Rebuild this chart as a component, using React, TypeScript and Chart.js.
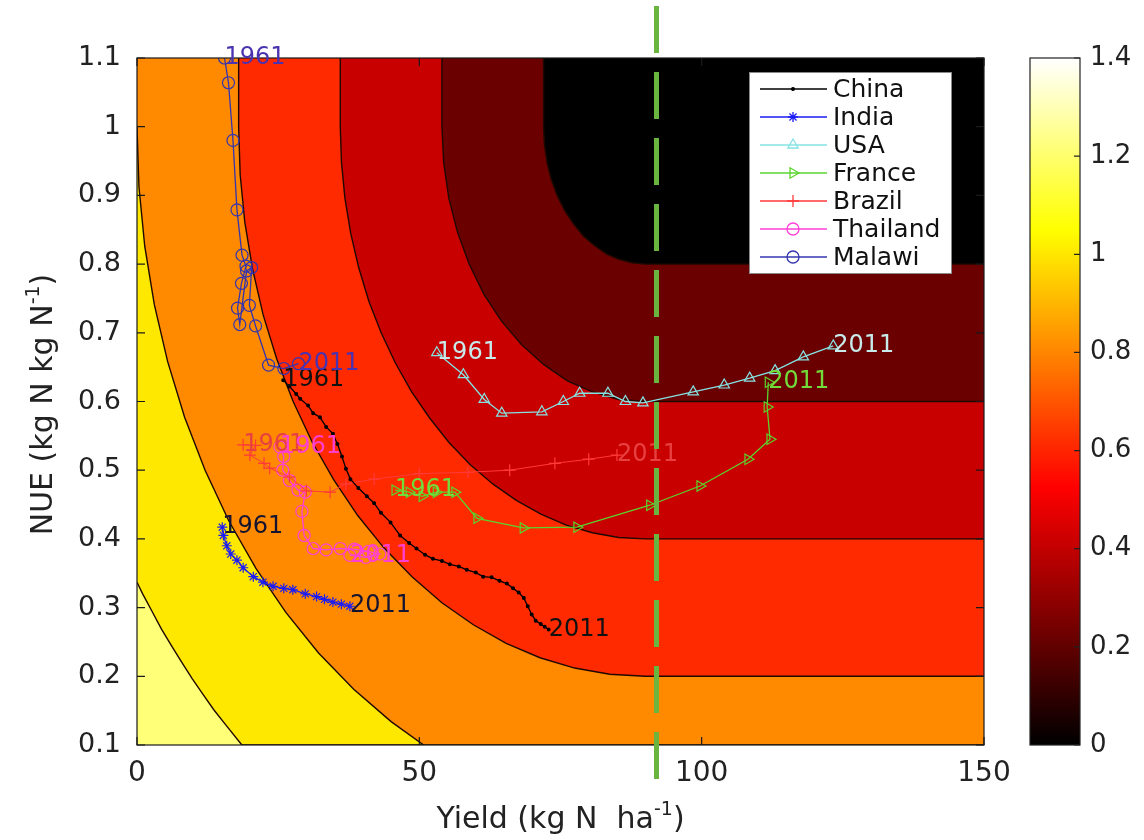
import React, { useEffect, useRef } from 'react';
import { Chart, registerables } from 'chart.js';
import { drawPoint } from 'chart.js/helpers';

Chart.register(...registerables);

const FONT = '"DejaVu Sans", "Liberation Sans", Arial, sans-serif';

// ---------- axes / ticks ----------
const xTicks = [0, 50, 100, 150];
const yTicks = [0.1, 0.2, 0.3, 0.4, 0.5, 0.6, 0.7, 0.8, 0.9, 1.0, 1.1];
const colorbarTicks = [0, 0.2, 0.4, 0.6, 0.8, 1.0, 1.2, 1.4];
const colorbarLabels = ['0', '0.2', '0.4', '0.6', '0.8', '1', '1.2', '1.4'];
const colorbarMax = 1.4;
const targetYield = 92;

const xTitle = 'Yield (kg N  ha';
const yTitle = 'NUE (kg N kg N';
const superscript = '-1';

// ---------- country trajectories (x = yield, y = NUE) ----------
const countries = ['China', 'India', 'USA', 'France', 'Brazil', 'Thailand', 'Malawi'];
const startYear = '1961';
const endYear = '2011';

const chinaPts = [
  [25.9, 0.631], [27.0, 0.622], [28.2, 0.611], [28.9, 0.604], [30.3, 0.594], [31.2, 0.583],
  [32.4, 0.577], [33.5, 0.563], [34.7, 0.553], [35.5, 0.538], [36.3, 0.52], [37.0, 0.502],
  [37.8, 0.487], [39.2, 0.474], [40.7, 0.462], [42.0, 0.452], [43.2, 0.438], [44.9, 0.424],
  [46.6, 0.405], [48.2, 0.394], [49.5, 0.386], [51.0, 0.377], [52.4, 0.371], [54.0, 0.368],
  [55.4, 0.363], [57.0, 0.36], [58.4, 0.355], [60.0, 0.351], [61.3, 0.345], [62.8, 0.344],
  [64.2, 0.339], [65.5, 0.335], [66.6, 0.328], [67.6, 0.322], [68.5, 0.314], [69.2, 0.302],
  [69.9, 0.29], [70.6, 0.281], [71.5, 0.276], [72.2, 0.272], [72.9, 0.268],
];
const indiaPts = [
  [15.1, 0.417], [15.3, 0.405], [15.9, 0.39], [16.6, 0.378], [17.7, 0.369], [18.8, 0.358],
  [20.6, 0.345], [22.3, 0.337], [24.1, 0.331], [26.0, 0.328], [27.6, 0.326], [29.8, 0.32],
  [31.8, 0.316], [33.2, 0.312], [34.7, 0.308], [36.2, 0.305], [37.7, 0.302],
];
const usaPts = [
  [53.1, 0.671], [57.8, 0.639], [61.5, 0.603], [64.6, 0.583], [71.7, 0.585], [75.5, 0.6],
  [78.4, 0.612], [83.4, 0.612], [86.5, 0.6], [89.6, 0.598], [98.5, 0.614], [104, 0.624],
  [108.5, 0.634], [113, 0.645], [118, 0.665], [123.3, 0.681],
];
const francePts = [
  [45.7, 0.471], [48.2, 0.468], [50.5, 0.462], [53.0, 0.468], [56.3, 0.468], [60.2, 0.43],
  [68.4, 0.416], [77.9, 0.417], [90.8, 0.449], [99.7, 0.477], [108.2, 0.516], [112.1, 0.545],
  [111.6, 0.592], [111.8, 0.628],
];
const brazilPts = [
  [18.8, 0.537], [21.0, 0.536], [20.0, 0.522], [22.5, 0.51], [23.5, 0.503], [27.0, 0.49],
  [30.0, 0.47], [34.2, 0.468], [37.0, 0.48], [42.0, 0.487], [50.0, 0.495], [58.6, 0.497],
  [66.0, 0.5], [74.0, 0.51], [80.0, 0.516], [85.0, 0.522],
];
const thailandPts = [
  [25.3, 0.534], [26.0, 0.52], [25.8, 0.5], [27.0, 0.485], [28.5, 0.471], [29.8, 0.468],
  [29.2, 0.44], [29.6, 0.405], [31.2, 0.386], [33.5, 0.384], [36.0, 0.386], [38.5, 0.385],
  [41.0, 0.382], [43.0, 0.378], [40.5, 0.373], [37.7, 0.376],
];
const malawiPts = [
  [15.5, 1.1], [16.2, 1.064], [17.0, 0.98], [17.7, 0.879], [18.6, 0.813], [19.3, 0.797],
  [18.5, 0.772], [17.8, 0.736], [18.2, 0.712], [19.4, 0.79], [20.3, 0.795], [19.9, 0.74],
  [21.0, 0.71], [23.3, 0.653], [26.0, 0.648], [28.6, 0.655],
];

const seriesPts = [chinaPts, indiaPts, usaPts, francePts, brazilPts, thailandPts, malawiPts];
const seriesColors = ['#000000', '#1b1bf5', '#86e3e3', '#5ad42c', '#ff3a3a', '#ff3fd8', '#3434b0'];
const labelColors = ['#111111', '#141430', '#c8eaea', '#72dc3a', '#e84040', '#ff3fd0', '#4a32b0'];
const markerStyles = ['circle', 'star', 'triangle', 'triangle', 'cross', 'circle', 'circle'];
const markerRotation = [0, 0, 0, 90, 0, 0, 0];
const markerRadius = [1.4, 5, 6, 6, 6, 6, 6];

// ---------- contour bands (boundary of the region below each level) ----------
const contourLevels = [0.2, 0.4, 0.6, 0.8, 1.0, 1.2];
const contour02 = [
  [72, 1.1], [72, 1.0], [72.15, 0.974], [72.61, 0.948], [73.37, 0.923], [74.41, 0.9], [75.72, 0.878],
  [77.27, 0.859], [79.04, 0.841], [81, 0.827], [83.11, 0.815], [85.34, 0.807], [87.65, 0.802],
  [90, 0.8], [150, 0.8],
];
const contour04 = [
  [54, 1.1], [54, 1.0], [54.31, 0.948], [55.22, 0.896], [56.74, 0.847], [58.82, 0.8], [61.44, 0.756],
  [64.55, 0.717], [68.08, 0.683], [72, 0.654], [76.22, 0.63], [80.68, 0.614], [85.3, 0.603],
  [90, 0.6], [150, 0.6],
];
const contour06 = [
  [36, 1.1], [36, 1.0], [36.21, 0.948], [36.82, 0.896], [37.84, 0.845], [39.26, 0.795], [41.06, 0.746],
  [43.24, 0.7], [45.76, 0.656], [48.64, 0.614], [51.82, 0.576], [55.29, 0.54], [59.03, 0.508],
  [63, 0.48], [67.18, 0.456], [71.53, 0.436], [76.02, 0.42], [80.63, 0.409], [85.29, 0.402],
  [90, 0.4], [150, 0.4],
];
const contour08 = [
  [18, 1.1], [18, 1.0], [18.27, 0.93], [19.09, 0.861], [20.46, 0.793], [22.34, 0.726], [24.75, 0.662],
  [27.65, 0.6], [31.02, 0.541], [34.85, 0.486], [39.09, 0.434], [43.72, 0.387], [48.7, 0.345],
  [54, 0.307], [59.57, 0.275], [65.38, 0.248], [71.37, 0.227], [77.5, 0.212], [83.72, 0.203],
  [90, 0.2], [150, 0.2],
];
const contour10 = [
  [0, 1.0], [0.34, 0.913], [1.37, 0.826], [3.07, 0.741], [5.43, 0.658], [8.43, 0.577], [12.06, 0.5],
  [16.27, 0.426], [21.06, 0.357], [26.36, 0.293], [32.15, 0.234], [38.38, 0.181], [45, 0.134],
  [50.77, 0.1], [150, 0.1],
];
const contour12 = [
  [0, 0.337], [1.0, 0.32], [2.63, 0.295], [4.31, 0.269], [6.07, 0.245], [7.88, 0.221],
  [9.74, 0.197], [11.66, 0.174], [13.63, 0.151], [15.65, 0.13], [18.57, 0.1], [150, 0.1],
];
const contours = [contour02, contour04, contour06, contour08, contour10, contour12];
const bandColors = ['#000000', '#6a0000', '#c80000', '#ff2a00', '#ff8a00', '#ffe800', '#ffff78'];

const toXY = (pts: number[][]) => pts.map(([x, y]) => ({ x, y }));

// ---------- plugins ----------
const backgroundPlugin = {
  id: 'bg',
  beforeDraw(chart: any) {
    const { ctx, chartArea: a } = chart;
    ctx.save();
    ctx.fillStyle = '#ffffff';
    ctx.fillRect(0, 0, chart.width, chart.height);
    ctx.fillStyle = bandColors[6];
    ctx.fillRect(a.left, a.top, a.right - a.left, a.bottom - a.top);
    ctx.restore();
  },
};

const frameTickPlugin = {
  id: 'frameTicks',
  afterDatasetsDraw(chart: any) {
    const { ctx, chartArea: a, scales } = chart;
    ctx.save();
    ctx.strokeStyle = '#1a1a1a';
    ctx.lineWidth = 1.2;
    ctx.strokeRect(a.left, a.top, a.right - a.left, a.bottom - a.top);
    const tl = 8;
    ctx.beginPath();
    xTicks.forEach((v) => {
      const px = scales.x.getPixelForValue(v);
      ctx.moveTo(px, a.bottom); ctx.lineTo(px, a.bottom - tl);
      ctx.moveTo(px, a.top); ctx.lineTo(px, a.top + tl);
    });
    yTicks.forEach((v) => {
      const py = scales.y.getPixelForValue(v);
      ctx.moveTo(a.left, py); ctx.lineTo(a.left + tl, py);
      ctx.moveTo(a.right, py); ctx.lineTo(a.right - tl, py);
    });
    ctx.stroke();
    ctx.restore();
  },
};

const overlayPlugin = {
  id: 'overlay',
  afterDraw(chart: any) {
    const { ctx, chartArea: a, scales } = chart;
    ctx.save();

    // year labels
    ctx.font = `24px ${FONT}`;
    ctx.textAlign = 'left';
    ctx.textBaseline = 'middle';
    for (let i = 0; i < countries.length; i++) {
      const meta = chart.getDatasetMeta(i);
      const first = meta.data[0];
      const last = meta.data[meta.data.length - 1];
      ctx.fillStyle = labelColors[i];
      ctx.fillText(startYear, first.x, first.y);
      ctx.fillText(endYear, last.x, last.y);
    }

    // legend
    const bx = a.right - 235, by = a.top + 14, bw = 202, bh = 201;
    ctx.fillStyle = '#ffffff';
    ctx.fillRect(bx, by, bw, bh);
    ctx.strokeStyle = '#8a8a8a';
    ctx.lineWidth = 1;
    ctx.strokeRect(bx + 0.5, by + 0.5, bw, bh);
    ctx.font = `25px ${FONT}`;
    for (let i = 0; i < countries.length; i++) {
      const y = by + 17 + i * 28;
      ctx.strokeStyle = seriesColors[i];
      ctx.lineWidth = 1.3;
      ctx.beginPath();
      ctx.moveTo(bx + 11, y);
      ctx.lineTo(bx + 78, y);
      ctx.stroke();
      ctx.fillStyle = i === 0 ? '#000' : 'rgba(0,0,0,0)';
      drawPoint(ctx, {
        pointStyle: markerStyles[i], radius: markerRadius[i], rotation: markerRotation[i], borderWidth: 1.3,
      } as any, bx + 44, y);
      ctx.fillStyle = '#111';
      ctx.fillText(countries[i], bx + 84, y + 1);
    }

    // dashed target line
    const tx = scales.x.getPixelForValue(targetYield);
    ctx.strokeStyle = '#6ab440';
    ctx.lineWidth = 5;
    ctx.setLineDash([47, 19]);
    ctx.beginPath();
    ctx.moveTo(tx, 6);
    ctx.lineTo(tx, 781);
    ctx.stroke();
    ctx.setLineDash([]);

    // colorbar
    const cx0 = 1030, cx1 = 1080;
    const grad = ctx.createLinearGradient(0, a.bottom, 0, a.top);
    grad.addColorStop(0, '#000000');
    grad.addColorStop(0.375, '#ff0000');
    grad.addColorStop(0.75, '#ffff00');
    grad.addColorStop(1, '#ffffff');
    ctx.fillStyle = grad;
    ctx.fillRect(cx0, a.top, cx1 - cx0, a.bottom - a.top);
    ctx.strokeStyle = '#222';
    ctx.lineWidth = 1.2;
    ctx.strokeRect(cx0, a.top, cx1 - cx0, a.bottom - a.top);
    ctx.font = `26px ${FONT}`;
    ctx.fillStyle = '#222';
    ctx.beginPath();
    colorbarTicks.forEach((v, k) => {
      const py = a.bottom - (v / colorbarMax) * (a.bottom - a.top);
      ctx.moveTo(cx1, py); ctx.lineTo(cx1 - 6, py);
      ctx.fillText(colorbarLabels[k], cx1 + 10, py);
    });
    ctx.stroke();

    // axis titles
    const mainF = `30px ${FONT}`;
    const supF = `19px ${FONT}`;
    ctx.fillStyle = '#222';
    ctx.textBaseline = 'alphabetic';
    const drawTitle = (txt: string) => {
      ctx.font = mainF; const w1 = ctx.measureText(txt).width;
      ctx.font = supF; const w2 = ctx.measureText(superscript).width;
      ctx.font = mainF; const w3 = ctx.measureText(')').width;
      const total = w1 + w2 + w3;
      let x = -total / 2;
      ctx.font = mainF; ctx.fillText(txt, x, 0); x += w1;
      ctx.font = supF; ctx.fillText(superscript, x, -13); x += w2;
      ctx.font = mainF; ctx.fillText(')', x, 0);
    };
    ctx.save();
    ctx.translate((a.left + a.right) / 2, 828);
    drawTitle(xTitle);
    ctx.restore();
    ctx.save();
    ctx.translate(52, (a.top + a.bottom) / 2 + 3);
    ctx.rotate(-Math.PI / 2);
    drawTitle(yTitle);
    ctx.restore();

    ctx.restore();
  },
};

export default function App() {
  const ref = useRef<HTMLCanvasElement | null>(null);

  useEffect(() => {
    if (!ref.current) return;
    const seriesDatasets = countries.map((name, i) => ({
      label: name,
      data: toXY(seriesPts[i]),
      showLine: true,
      borderColor: seriesColors[i],
      borderWidth: i === 4 ? 1 : 1.3,
      pointStyle: markerStyles[i],
      pointRotation: markerRotation[i],
      pointRadius: markerRadius[i],
      pointBorderWidth: 1.2,
      pointBorderColor: seriesColors[i],
      pointBackgroundColor: i === 0 ? '#000' : 'rgba(0,0,0,0)',
      fill: false,
    }));
    const contourDatasets = contourLevels.map((lv, k) => ({
      label: `level ${lv}`,
      data: toXY(contours[k]),
      showLine: true,
      borderColor: '#1f0800',
      borderWidth: 1.4,
      pointRadius: 0,
      fill: 'end',
      backgroundColor: bandColors[k],
    }));

    const chart = new Chart(ref.current, {
      type: 'scatter',
      data: { datasets: [...seriesDatasets, ...contourDatasets] as any },
      options: {
        animation: false,
        responsive: false,
        events: [],
        layout: { padding: { left: 0, top: 58, right: 160, bottom: 0 } },
        plugins: {
          legend: { display: false },
          tooltip: { enabled: false },
          filler: { propagate: false },
        },
        scales: {
          x: {
            type: 'linear', min: 0, max: 150,
            afterBuildTicks: (axis: any) => { axis.ticks = xTicks.map((v) => ({ value: v })); },
            afterFit: (axis: any) => { axis.height = 95; },
            grid: { display: false, drawTicks: false },
            border: { display: false },
            ticks: { font: { family: FONT, size: 28 }, color: '#222', padding: 12, maxRotation: 0 },
          },
          y: {
            type: 'linear', min: 0.1, max: 1.1,
            afterBuildTicks: (axis: any) => { axis.ticks = yTicks.map((v) => ({ value: v })); },
            afterFit: (axis: any) => { axis.width = 137; },
            grid: { display: false, drawTicks: false },
            border: { display: false },
            ticks: {
              font: { family: FONT, size: 27 }, color: '#222', padding: 16,
              callback: (v: any) => String(Number(Number(v).toFixed(1))),
            },
          },
        },
      } as any,
      plugins: [backgroundPlugin, frameTickPlugin, overlayPlugin],
    });
    return () => chart.destroy();
  }, []);

  return (
    <div style={{ position: 'absolute', left: 0, top: 0, width: 1144, height: 840, background: '#fff' }}>
      <canvas ref={ref} width={1144} height={840} style={{ display: 'block' }} />
    </div>
  );
}
